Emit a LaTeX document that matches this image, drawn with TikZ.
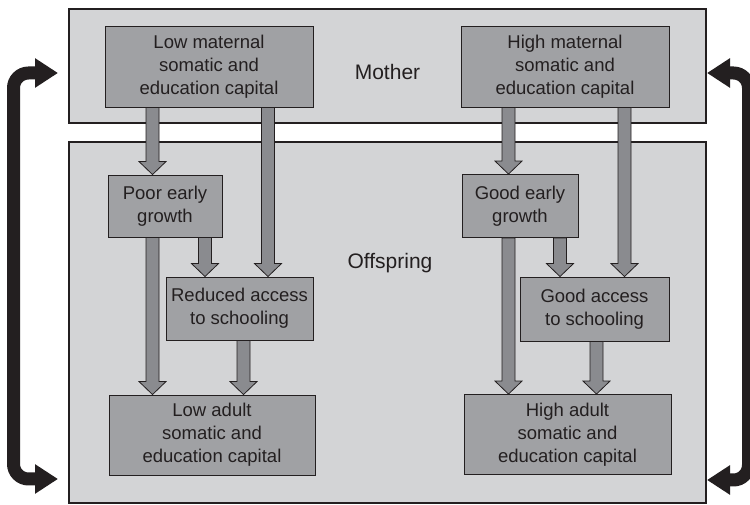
\documentclass[tikz,border=0pt]{standalone}
\usepackage{fontspec}
\setmainfont{Liberation Sans}
\usetikzlibrary{arrows.meta,calc}
\definecolor{outerfill}{RGB}{211,212,214}
\definecolor{nodefill}{RGB}{160,161,164}
\definecolor{arrowfill}{RGB}{138,139,143}
\definecolor{ink}{RGB}{35,31,32}
\tikzset{
  outerbox/.style={draw=ink, fill=outerfill, line width=1.5pt, inner sep=0pt},
  stage/.style={draw=ink, fill=nodefill, line width=0.9pt, align=center, inner sep=0pt,
    text=ink, font=\fontsize{18.5}{23}\selectfont},
  blockarrow/.style={draw=ink, fill=arrowfill, line width=0.8pt, line join=miter},
  sidearrow/.style={draw=ink, line width=13pt, rounded corners=15pt,
    {Triangle[length=23pt,width=28pt]}-{Triangle[length=23pt,width=28pt]}},
  lbl/.style={text=ink, inner sep=0pt, font=\fontsize{21}{25}\selectfont}
}
% #1 shaft x (pt), #2 source node, #3 target node
\newcommand\blockarr[3]{%
  \draw[blockarrow] let \p1=(#2.south), \p2=(#3.north) in
    ({#1pt-6.5pt},\y1) -- ({#1pt-6.5pt},{\y2+13pt}) -- ({#1pt-13.5pt},{\y2+13pt})
    -- ({#1pt},\y2) -- ({#1pt+13.5pt},{\y2+13pt}) -- ({#1pt+6.5pt},{\y2+13pt})
    -- ({#1pt+6.5pt},\y1) -- cycle;}
\begin{document}
\begin{tikzpicture}[x=1pt,y=1pt]
\useasboundingbox (0,0) rectangle (750,505);
% outer boxes
\node[outerbox, minimum width=637pt, minimum height=114pt] (mother) at (387.5,439) {};
\node[outerbox, minimum width=637pt, minimum height=361pt] (offspring) at (387.5,182.5) {};
\node[lbl] (mlabel) at (387.5,432.5) {Mother};
\node[lbl] (olabel) at (390,242) {Offspring};
% left column
\node[stage, minimum width=208pt, minimum height=81pt] (lowm) at (209,438.5)
  {Low maternal\\somatic and\\education capital};
\node[stage, minimum width=114pt, minimum height=62pt] (poor) at (165,299)
  {Poor early\\growth};
\node[stage, minimum width=147pt, minimum height=63pt] (reduced) at (239.5,196.5)
  {Reduced access\\to schooling};
\node[stage, minimum width=206pt, minimum height=80pt] (lowa) at (212,70)
  {Low adult\\somatic and\\education capital};
% right column
\node[stage, minimum width=208pt, minimum height=81pt] (highm) at (565,438.5)
  {High maternal\\somatic and\\education capital};
\node[stage, minimum width=116pt, minimum height=63pt] (good) at (520,299)
  {Good early\\growth};
\node[stage, minimum width=149pt, minimum height=64pt] (goodacc) at (594.5,196)
  {Good access\\to schooling};
\node[stage, minimum width=207pt, minimum height=80pt] (higha) at (567.5,70.5)
  {High adult\\somatic and\\education capital};
% block arrows
\blockarr{152.5}{lowm}{poor}
\blockarr{268}{lowm}{reduced}
\blockarr{205}{poor}{reduced}
\blockarr{152.5}{poor}{lowa}
\blockarr{243.5}{reduced}{lowa}
\blockarr{508.5}{highm}{good}
\blockarr{624.5}{highm}{goodacc}
\blockarr{560}{good}{goodacc}
\blockarr{508.5}{good}{higha}
\blockarr{596.5}{goodacc}{higha}
% side arrows
\coordinate (lt) at (58,432);
\coordinate (lb) at (58,26);
\coordinate (rt) at (707,432);
\coordinate (rb) at (707,25);
\draw[sidearrow] (lt) -- (13.5,432) -- (13.5,26) -- (lb);
\draw[sidearrow] (rt) -- (748.5,432) -- (748.5,25) -- (rb);
\end{tikzpicture}
\end{document}
